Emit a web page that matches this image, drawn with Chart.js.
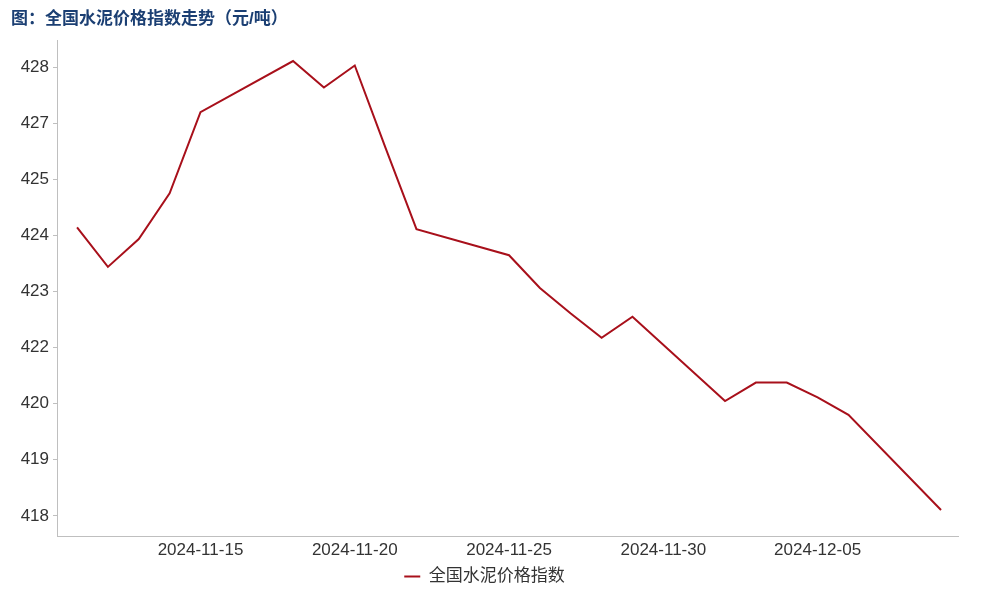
<!DOCTYPE html>
<html>
<head>
<meta charset="utf-8">
<title>全国水泥价格指数走势</title>
<script src="https://cdn.jsdelivr.net/npm/chart.js@4"></script>
<style>
  html, body { margin: 0; padding: 0; background: #fff; }
  #wrap { width: 1000px; height: 600px; }
</style>
</head>
<body>
<div id="wrap"><canvas id="myChart" width="1000" height="600"></canvas></div>
<script>
// Dados do gráfico
var dates = ['2024-11-11', '2024-11-12', '2024-11-13', '2024-11-14', '2024-11-15',
  '2024-11-18', '2024-11-19', '2024-11-20', '2024-11-21', '2024-11-22',
  '2024-11-25', '2024-11-26', '2024-11-27', '2024-11-28', '2024-11-29',
  '2024-12-02', '2024-12-03', '2024-12-04', '2024-12-05', '2024-12-06',
  '2024-12-09'];
var cementIndex = [424.43, 423.55, 424.17, 425.19, 427.00,
  428.14, 427.55, 428.04, 426.20, 424.39,
  423.81, 423.08, 422.51, 421.97, 422.44,
  420.56, 420.97, 420.97, 420.64, 420.25,
  418.13];
var xTickDates = ['2024-11-15', '2024-11-20', '2024-11-25', '2024-11-30', '2024-12-05'];
var yTickValues = [418, 419.25, 420.5, 421.75, 423, 424.25, 425.5, 426.75, 428];
var yTickLabels = ['418', '419', '420', '422', '423', '424', '425', '427', '428'];
var seriesName = '全国水泥价格指数';
var chartTitle = '图：全国水泥价格指数走势（元/吨）';

var DAY = 24 * 3600 * 1000;
var start = Date.parse(dates[0] + 'T00:00:00Z');
function dayIndex(d) {
  return Math.round((Date.parse(d + 'T00:00:00Z') - start) / DAY);
}

var points = dates.map(function (d, i) {
  return { x: dayIndex(d), y: cementIndex[i] };
});

var FONT = "'Liberation Sans', 'Noto Sans CJK SC', Arial, sans-serif";
var red = '#A8101B';

var ctx = document.getElementById('myChart').getContext('2d');
var myChart = new Chart(ctx, {
  type: 'line',
  data: {
    datasets: [{
      label: seriesName,
      data: points,
      borderColor: red,
      backgroundColor: red,
      borderWidth: 2,
      pointRadius: 0,
      pointStyle: 'line',
      tension: 0
    }]
  },
  options: {
    responsive: false,
    animation: false,
    layout: { padding: { left: 11, right: 42, top: 0, bottom: 5 } },
    plugins: {
      title: {
        display: true,
        text: chartTitle,
        align: 'start',
        color: '#1B3F73',
        font: { family: FONT, size: 17, weight: 'bold' },
        padding: { top: 9, bottom: 11 }
      },
      legend: {
        position: 'bottom',
        labels: {
          color: '#333333',
          font: { family: FONT, size: 17 },
          usePointStyle: true,
          pointStyleWidth: 16,
          boxHeight: 2,
          padding: 10
        }
      },
      tooltip: { enabled: false }
    },
    scales: {
      x: {
        type: 'linear',
        min: -0.65,
        max: dayIndex(dates[dates.length - 1]) + 0.55,
        grid: { display: true, drawOnChartArea: false, drawTicks: false, color: '#bfbfbf' },
        border: { display: true, color: '#bfbfbf', width: 1 },
        afterBuildTicks: function (scale) {
          scale.ticks = xTickDates.map(function (d) { return { value: dayIndex(d) }; });
        },
        afterFit: function (scale) { scale.height = 22; },
        ticks: {
          autoSkip: false,
          maxRotation: 0,
          padding: 4,
          color: '#333333',
          font: { family: FONT, size: 17 },
          callback: function (value) {
            var i = xTickDates.map(dayIndex).indexOf(value);
            return i >= 0 ? xTickDates[i] : '';
          }
        }
      },
      y: {
        min: 417.55,
        max: 428.6,
        grid: { display: true, drawOnChartArea: false, drawTicks: true, tickLength: 4, color: '#bfbfbf' },
        border: { display: true, color: '#bfbfbf', width: 1 },
        afterBuildTicks: function (scale) {
          scale.ticks = yTickValues.map(function (v) { return { value: v }; });
        },
        afterFit: function (scale) { scale.width = 46; },
        ticks: {
          padding: 4,
          color: '#333333',
          font: { family: FONT, size: 17 },
          callback: function (value) {
            var i = yTickValues.indexOf(value);
            return i >= 0 ? yTickLabels[i] : '';
          }
        }
      }
    }
  }
});
</script>
</body>
</html>
